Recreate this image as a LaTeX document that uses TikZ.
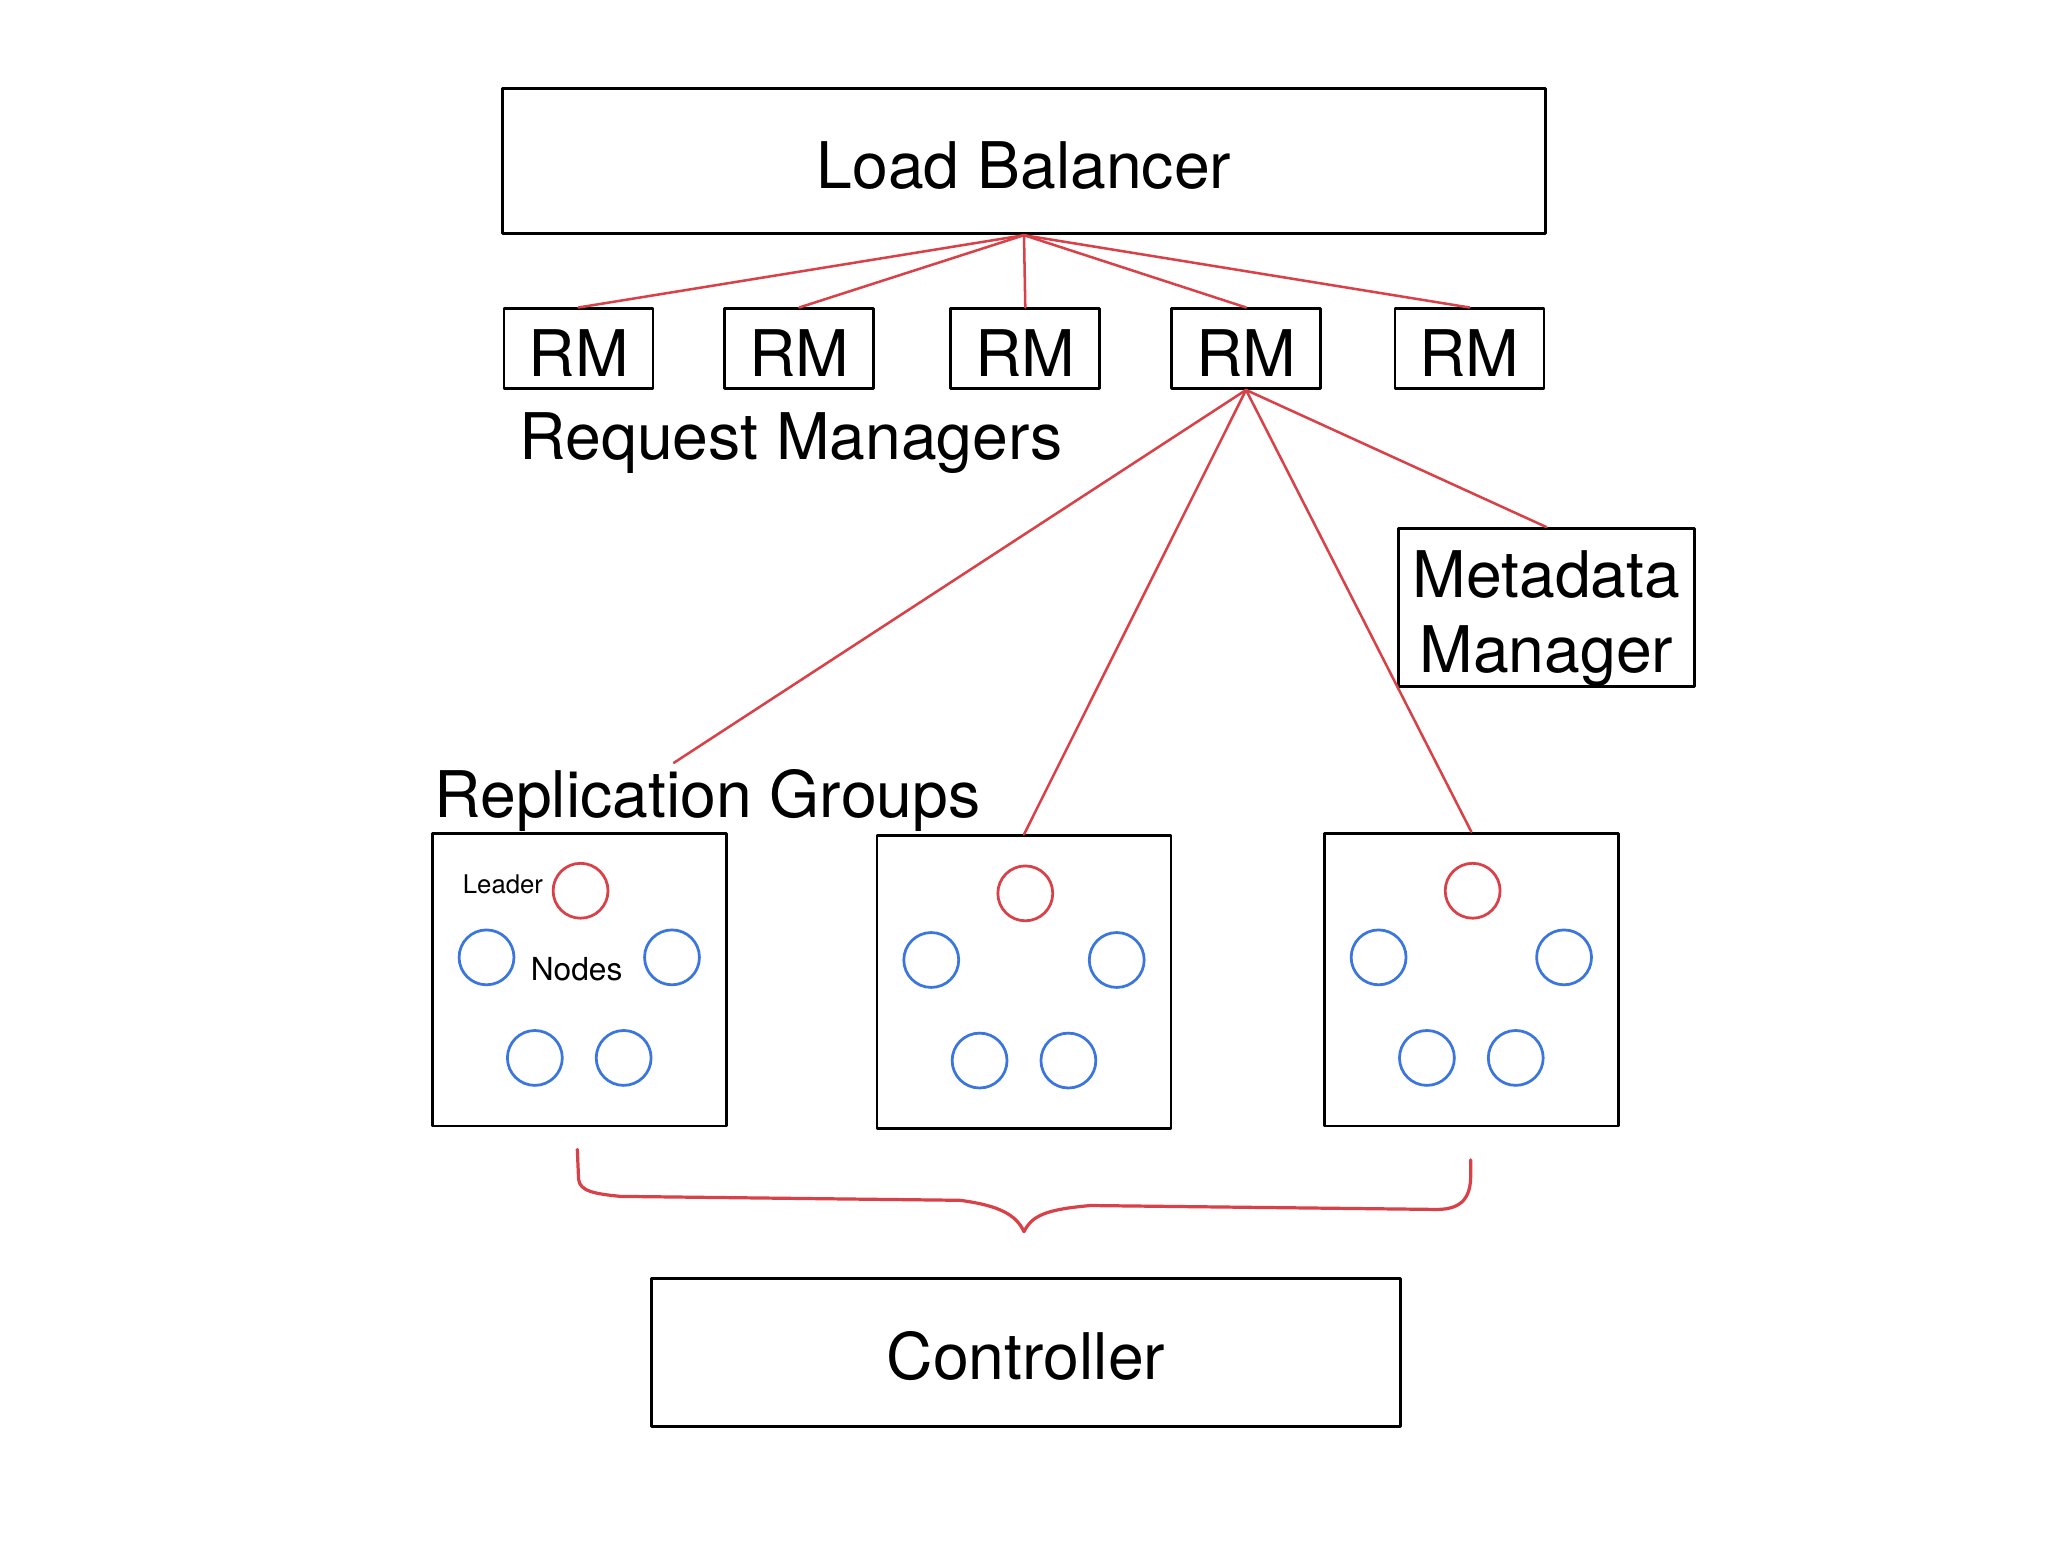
\documentclass[tikz,border=0pt]{standalone}
\usepackage{fontspec}
\setmainfont{TeX Gyre Heros}
\definecolor{linkred}{RGB}{217,65,72}
\definecolor{nodeblue}{RGB}{58,118,222}
\tikzset{
  box/.style={draw,line width=0.6pt,inner sep=0pt,font=\fontsize{14}{16.2}\selectfont},
  boxline/.style={box,text height=0.43cm},
  link/.style={draw=linkred,line width=0.55pt},
  peer/.style={circle,draw=nodeblue,line width=0.6pt,minimum size=0.42cm,inner sep=0pt},
  leader/.style={peer,draw=linkred},
}
\begin{document}
\begin{tikzpicture}[x=0.01cm,y=-0.01cm,line cap=round,line join=round]
  \useasboundingbox (0,0) rectangle (1568,1180);
  \node[boxline,minimum width=7.98cm,minimum height=1.11cm] (lb) at (784,123.5) {Load Balancer};
  \foreach \i/\x in {1/443,2/612,3/785,4/954,5/1125}
    \node[boxline,minimum width=1.14cm,minimum height=0.61cm] (rm\i) at (\x,267) {RM};
  \foreach \i in {1,...,5}
    \draw[link] (lb.south) -- (rm\i.north);
  \node[anchor=base west,inner sep=0pt,font=\fontsize{14}{16}\selectfont] (rmlabel) at (397,352) {Request Managers};
  \node[box,minimum width=2.26cm,minimum height=1.18cm,align=center] (meta) at (1184,465) {\rule{0pt}{0.53cm}Metadata\\Manager};
  \foreach \g/\x/\y in {1/443.5/750,2/784/752,3/1126.5/750} {
    \node[box,minimum width=2.25cm,minimum height=2.24cm] (rg\g) at (\x,\y) {};
    \node[leader] (rg\g-l) at ([shift={(1,-68)}]rg\g.center) {};
    \foreach \dx/\dy [count=\k] in {-71/-17,71/-17,-34/60,34/60}
      \node[peer] (rg\g-p\k) at ([shift={(\dx,\dy)}]rg\g.center) {};
  }
  \node[anchor=east,inner sep=0pt,font=\fontsize{5.6}{7}\selectfont] (leadlabel) at ([shift={(-6,-5)}]rg1-l.west) {Leader};
  \node[inner sep=0pt,font=\fontsize{6.9}{8}\selectfont] (peerlabel) at ([shift={(-2,-8)}]rg1.center) {Nodes};
  \node[anchor=base west,inner sep=0pt,font=\fontsize{14}{16}\selectfont] (rglabel) at (332,626) {Replication Groups};
  \coordinate (rgtip) at (516,584);
  \draw[link] (rm4.south) -- (rgtip);
  \draw[link] (rm4.south) -- (rg2.north);
  \draw[link] (rm4.south) -- (rg3.north);
  \draw[link] (rm4.south) -- (meta.north);
  \draw[link,line width=0.7pt] (442,880) -- (443,903) .. controls (444,912) and (455,914) .. (475,916)
    -- (735,919) .. controls (765,923) and (778,930) .. (784,943)
    .. controls (790,931) and (800,926) .. (835,923) -- (1100,926)
    .. controls (1120,926) and (1126,916) .. (1126,900) -- (1126,888);
  \node[boxline,minimum width=5.73cm,minimum height=1.13cm] (ctrl) at (785.5,1035.5) {Controller};
\end{tikzpicture}
\end{document}
